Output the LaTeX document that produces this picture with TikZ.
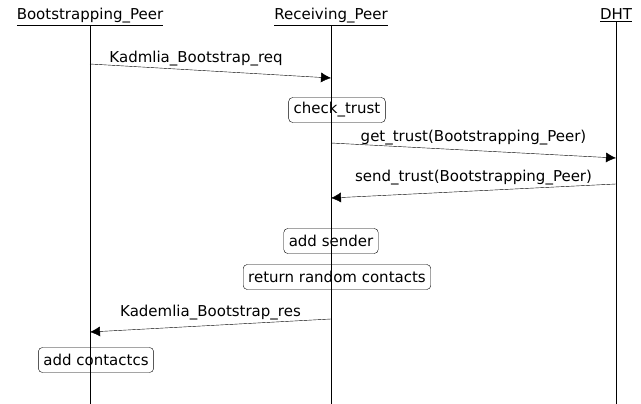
\documentclass[tikz,border=0pt]{standalone}
\usepackage{fontspec}
\setmainfont{DejaVu Sans}
\usetikzlibrary{arrows.meta}
\pgfdeclarelayer{edgelayer}
\pgfdeclarelayer{nodelayer}
\pgfsetlayers{edgelayer,nodelayer,main}
\tikzstyle{actor}=[anchor=base,inner sep=0pt]
\tikzstyle{lifeline}=[draw=black]
\tikzstyle{action}=[rectangle,rounded corners=4pt,draw=black,minimum height=25pt,inner xsep=5pt]
\tikzstyle{message}=[-{Latex[length=10pt,width=10pt]},draw=black]

\begin{document}
\begin{tikzpicture}[x=1pt,y=-1pt,line width=1pt,font=\fontsize{15}{18}\selectfont]
	\useasboundingbox (0,0) rectangle (641,404);
	\begin{pgfonlayer}{nodelayer}
		\node [style=actor] (0) at (90, 20) {\underline{Bootstrapping\_Peer}};
		\node [style=actor] (1) at (331, 20) {\underline{Receiving\_Peer}};
		\node [style=actor] (2) at (616, 20) {\underline{DHT}};
		\node [style=action] (3) at (337, 110) {check\_trust};
		\node [style=action] (4) at (331, 241) {add sender};
		\node [style=action] (5) at (337, 277) {return random contacts};
		\node [style=action] (6) at (96, 360) {add contactcs};
		\coordinate (7) at (90, 404);
		\coordinate (8) at (331, 404);
		\coordinate (9) at (616, 404);
		\coordinate (10) at (90, 64);
		\coordinate (11) at (331, 78);
		\coordinate (12) at (331, 143);
		\coordinate (13) at (616, 158);
		\coordinate (14) at (616, 184);
		\coordinate (15) at (331, 198);
		\coordinate (16) at (331, 319);
		\coordinate (17) at (90, 332);
	\end{pgfonlayer}
	\begin{pgfonlayer}{edgelayer}
		\draw [style=message] (10) to node[pos=0.44, above=1pt]{Kadmlia\_Bootstrap\_req} (11);
		\draw [style=message] (12) to node[pos=0.5, above=2pt]{get\_trust(Bootstrapping\_Peer)} (13);
		\draw [style=message] (14) to node[pos=0.5, above=2pt]{send\_trust(Bootstrapping\_Peer)} (15);
		\draw [style=message] (16) to node[pos=0.5, above=2pt]{Kademlia\_Bootstrap\_res} (17);
	\end{pgfonlayer}
	\draw [style=lifeline] (0.south) -- (7);
	\draw [style=lifeline] (1.south) -- (8);
	\draw [style=lifeline] (2.south) -- (9);
\end{tikzpicture}
\end{document}
